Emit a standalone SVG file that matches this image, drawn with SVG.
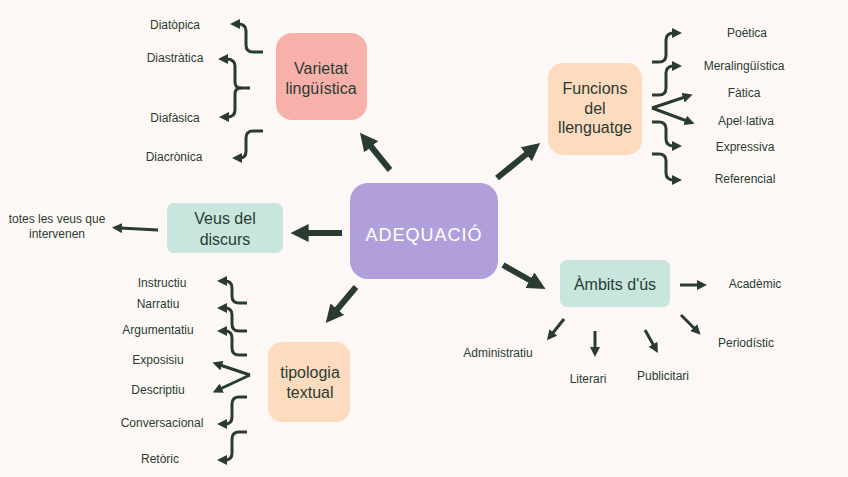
<svg xmlns="http://www.w3.org/2000/svg" width="848" height="477" viewBox="0 0 848 477">
<style>
.leaf{font-family:"Liberation Sans","DejaVu Sans",sans-serif;font-size:12px;fill:#2a3c32;text-anchor:middle}
.lbl{font-family:"Liberation Sans","DejaVu Sans",sans-serif;font-size:16px;fill:#2a3c32;text-anchor:middle}
.main{font-family:"Liberation Sans","DejaVu Sans",sans-serif;font-size:18px;fill:#ffffff;text-anchor:middle;letter-spacing:1px}
.big{stroke:#2a3c32;stroke-width:6;fill:none;marker-end:url(#hb)}
.sm{stroke:#2a3c32;stroke-width:3;fill:none;marker-end:url(#hs)}
</style>
<defs>
<marker id="hb" viewBox="0 0 10 10" markerWidth="18" markerHeight="18" refX="2" refY="5" orient="auto" markerUnits="userSpaceOnUse"><path d="M0,0 L10,5 L0,10 z" fill="#2a3c32"/></marker>
<marker id="hs" viewBox="0 0 10 10" markerWidth="10" markerHeight="10" refX="2" refY="5" orient="auto" markerUnits="userSpaceOnUse"><path d="M0,0 L10,5 L0,10 z" fill="#2a3c32"/></marker>
</defs>
<rect x="0" y="0" width="848" height="477" fill="#fdf8f5"/>

<g id="connectors">
<path class="big" d="M390,170 L369,144"/>
<path class="big" d="M497,178 L529,152"/>
<path class="big" d="M342,233 L305,233"/>
<path class="big" d="M356,287 L335,312"/>
<path class="big" d="M503,265 L533,282"/>

<path class="sm" d="M263,52 H253 Q246,52 246,45 V31 Q246,24 238,24"/>
<path class="sm" d="M250,88 H241 Q235,88 235,82 V66 Q235,59 226,59"/>
<path class="sm" d="M241,88 Q235,88 235,94 V110 Q235,117 227,117"/>
<path class="sm" d="M263,131 H253 Q246,131 246,138 V151 Q246,158 240,158"/>

<path class="sm" d="M652,62 H659 Q666,62 666,55 V40 Q666,33 674,33"/>
<path class="sm" d="M652,95 H659 Q666,95 666,88 V73 Q666,66 674,66"/>
<path class="sm" d="M652,108 L685,97"/>
<path class="sm" d="M652,108 L687,121"/>
<path class="sm" d="M652,122 H659 Q666,122 666,129 V139 Q666,146 674,146"/>
<path class="sm" d="M652,154 H659 Q666,154 666,161 V173 Q666,180 674,180"/>

<path class="sm" d="M158,230 L120,228"/>

<path class="sm" d="M247,303 H239 Q232,303 232,296 V288 Q232,281 225,281"/>
<path class="sm" d="M247,331 H239 Q232,331 232,324 V315 Q232,308 225,308"/>
<path class="sm" d="M247,355 H239 Q232,355 232,348 V338 Q232,331 225,331"/>
<path class="sm" d="M250,375 L220,365"/>
<path class="sm" d="M250,375 L220,389"/>
<path class="sm" d="M247,397 H239 Q232,397 232,404 V417 Q232,424 225,424"/>
<path class="sm" d="M247,432 H239 Q232,432 232,439 V453 Q232,460 225,460"/>

<path class="sm" d="M680,285 L699,285"/>
<path class="sm" d="M681,315 L695,329"/>
<path class="sm" d="M645,330 L654,346"/>
<path class="sm" d="M595,331 L595,349"/>
<path class="sm" d="M564,319 L552,334"/>
</g>

<g id="adequacio">
<rect x="350" y="183" width="148" height="96" rx="18" fill="#b19fdc"/>
<text class="main" x="424" y="241">ADEQUACIÓ</text>
</g>

<g id="varietat">
<rect x="276" y="33" width="91" height="87" rx="16" fill="#f7b1aa"/>
<text class="lbl" x="321" y="74">Varietat</text>
<text class="lbl" x="321" y="94">lingüística</text>
</g>

<g id="funcions">
<rect x="548" y="63" width="94" height="92" rx="15" fill="#fddbbf"/>
<text class="lbl" x="595" y="94">Funcions</text>
<text class="lbl" x="595" y="114">del</text>
<text class="lbl" x="595" y="133">llenguatge</text>
</g>

<g id="veus">
<rect x="167" y="203" width="116" height="50" rx="7" fill="#c9e6de"/>
<text class="lbl" x="225" y="224">Veus del</text>
<text class="lbl" x="225" y="245">discurs</text>
</g>

<g id="tipologia">
<rect x="268" y="342" width="82" height="80" rx="14" fill="#fddbbf"/>
<text class="lbl" x="310" y="378">tipologia</text>
<text class="lbl" x="310" y="398">textual</text>
</g>

<g id="ambits">
<rect x="560" y="260" width="110" height="47" rx="7" fill="#c9e6de"/>
<text class="lbl" x="615" y="290">Àmbits d'ús</text>
</g>

<g id="leaves-varietat">
<text class="leaf" x="175" y="29">Diatòpica</text>
<text class="leaf" x="175" y="62">Diastràtica</text>
<text class="leaf" x="175" y="122">Diafàsica</text>
<text class="leaf" x="174" y="161">Diacrònica</text>
</g>
<g id="leaves-funcions">
<text class="leaf" x="747" y="37">Poètica</text>
<text class="leaf" x="744" y="70">Meralingüística</text>
<text class="leaf" x="744" y="97">Fàtica</text>
<text class="leaf" x="746" y="125">Apel·lativa</text>
<text class="leaf" x="745" y="151">Expressiva</text>
<text class="leaf" x="745" y="183">Referencial</text>
</g>
<g id="leaves-veus">
<text class="leaf" x="57" y="223">totes les veus que</text>
<text class="leaf" x="57" y="238">intervenen</text>
</g>
<g id="leaves-tipologia">
<text class="leaf" x="162" y="287">Instructiu</text>
<text class="leaf" x="158" y="308">Narratiu</text>
<text class="leaf" x="158" y="334">Argumentatiu</text>
<text class="leaf" x="158" y="364">Exposisiu</text>
<text class="leaf" x="158" y="394">Descriptiu</text>
<text class="leaf" x="162" y="427">Conversacional</text>
<text class="leaf" x="160" y="463">Retòric</text>
</g>
<g id="leaves-ambits">
<text class="leaf" x="755" y="288">Acadèmic</text>
<text class="leaf" x="746" y="347">Periodístic</text>
<text class="leaf" x="663" y="380">Publicitari</text>
<text class="leaf" x="588" y="383">Literari</text>
<text class="leaf" x="498" y="357">Administratiu</text>
</g>
</svg>
